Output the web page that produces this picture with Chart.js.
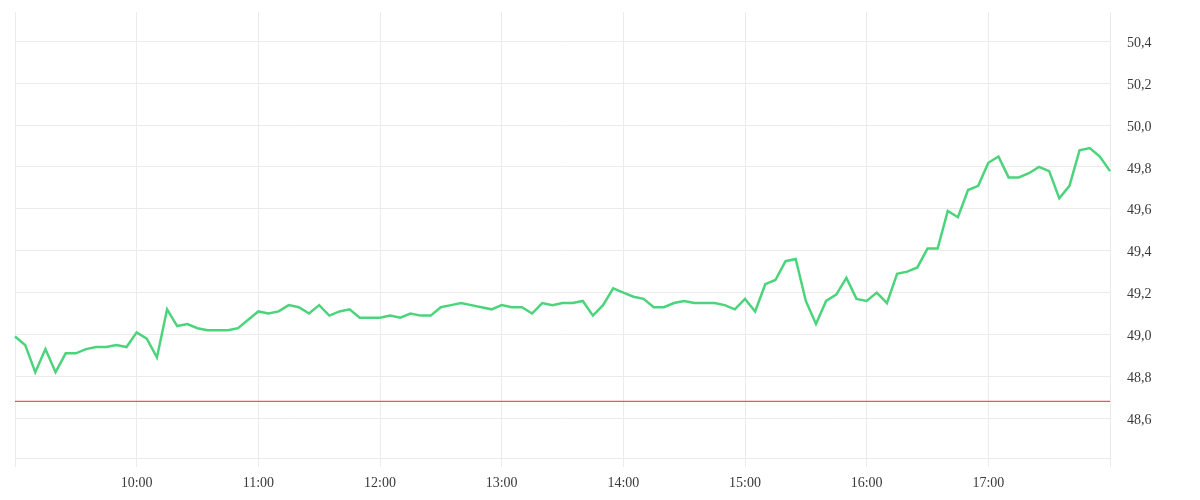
<!DOCTYPE html>
<html>
<head>
<meta charset="utf-8">
<script src="https://cdn.jsdelivr.net/npm/chart.js@4.4.1/dist/chart.umd.min.js"></script>
<style>
  html, body { margin: 0; padding: 0; background: #fff; }
  #wrap { width: 1200px; height: 500px; }
</style>
</head>
<body>
<div id="wrap"><canvas id="price"></canvas></div>
<script>
// 5-minute closes, 09:00 .. 18:00
var prices = [
  48.99, 48.95, 48.82, 48.93, 48.82, 48.91, 48.91, 48.93, 48.94, 48.94, 48.95, 48.94,
  49.01, 48.98, 48.89, 49.12, 49.04, 49.05, 49.03, 49.02, 49.02, 49.02, 49.03, 49.07,
  49.11, 49.10, 49.11, 49.14, 49.13, 49.10, 49.14, 49.09, 49.11, 49.12, 49.08, 49.08,
  49.08, 49.09, 49.08, 49.10, 49.09, 49.09, 49.13, 49.14, 49.15, 49.14, 49.13, 49.12,
  49.14, 49.13, 49.13, 49.10, 49.15, 49.14, 49.15, 49.15, 49.16, 49.09, 49.14, 49.22,
  49.20, 49.18, 49.17, 49.13, 49.13, 49.15, 49.16, 49.15, 49.15, 49.15, 49.14, 49.12,
  49.17, 49.11, 49.24, 49.26, 49.35, 49.36, 49.16, 49.05, 49.16, 49.19, 49.27, 49.17,
  49.16, 49.20, 49.15, 49.29, 49.30, 49.32, 49.41, 49.41, 49.59, 49.56, 49.69, 49.71,
  49.82, 49.85, 49.75, 49.75, 49.77, 49.80, 49.78, 49.65, 49.71, 49.88, 49.89, 49.85,
  49.78
];
var refLevel = 48.68;          // red reference line
var yMin = 48.41, yMax = 50.54;
var yStep = 0.2;

// time labels 09:00, 09:05, ...
var times = [];
for (var i = 0; i < prices.length; i++) {
  var m = 9 * 60 + i * 5;
  var hh = Math.floor(m / 60), mm = m % 60;
  times.push((hh < 10 ? '0' : '') + hh + ':' + (mm < 10 ? '0' : '') + mm);
}

var gridCol = '#ebebeb';
var isHour = function(idx) { return times[idx] && times[idx].slice(3) === '00'; };

Chart.defaults.font.family = "'Liberation Serif', serif";
Chart.defaults.font.size = 14;
Chart.defaults.color = '#3a3a3a';

new Chart(document.getElementById('price').getContext('2d'), {
  type: 'line',
  data: {
    labels: times,
    datasets: [
      {
        data: prices,
        borderColor: '#4cd47c',
        borderWidth: 2.5,
        pointRadius: 0,
        tension: 0,
        fill: false
      },
      {
        data: prices.map(function() { return refLevel; }),
        borderColor: '#ff4d5b',
        borderWidth: 1.2,
        pointRadius: 0,
        fill: false
      }
    ]
  },
  options: {
    responsive: true,
    maintainAspectRatio: false,
    animation: false,
    layout: { padding: { left: 15, top: 12, right: 0, bottom: 0 } },
    plugins: { legend: { display: false }, tooltip: { enabled: false } },
    scales: {
      x: {
        offset: false,
        afterFit: function(s) { s.height = 42; s.paddingLeft = 0; s.paddingRight = 0; },
        border: { color: gridCol },
        grid: {
          color: function(c) { return isHour(c.index) ? gridCol : 'rgba(0,0,0,0)'; },
          tickLength: 9
        },
        ticks: {
          autoSkip: false,
          maxRotation: 0,
          padding: 8,
          callback: function(v, idx) {
            if (idx === 0 || idx === times.length - 1) return '';
            return isHour(idx) ? times[idx] : '';
          }
        }
      },
      y: {
        position: 'right',
        min: yMin,
        max: yMax,
        afterFit: function(s) { s.width = 90; s.paddingTop = 0; s.paddingBottom = 0; },
        border: { color: gridCol },
        grid: { color: gridCol, drawTicks: false },
        ticks: {
          stepSize: yStep,
          includeBounds: false,
          padding: 17,
          labelOffset: 2,
          callback: function(v) { return v.toFixed(1).replace('.', ','); }
        }
      }
    }
  }
});
</script>
</body>
</html>
